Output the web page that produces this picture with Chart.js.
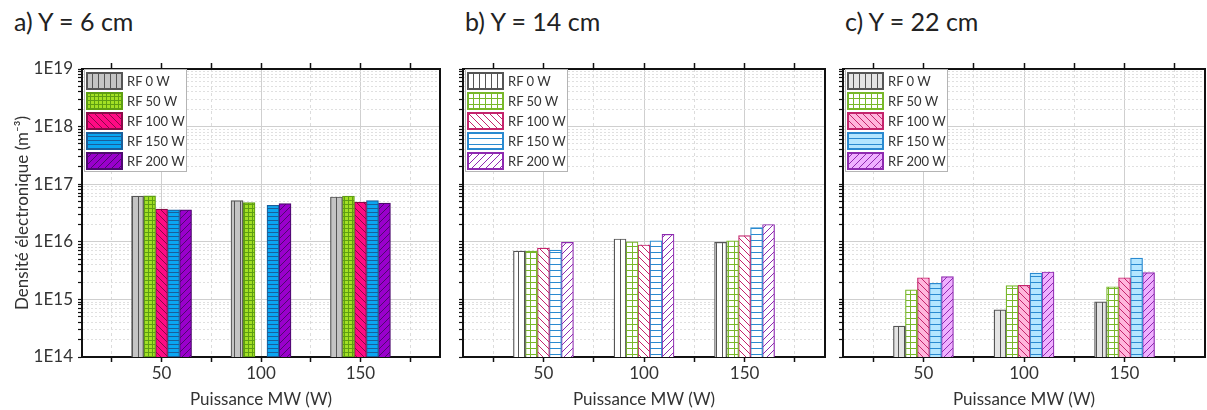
<!DOCTYPE html>
<html>
<head>
<meta charset="utf-8">
<script src="https://cdn.jsdelivr.net/npm/chart.js@4.4.1/dist/chart.umd.min.js"></script>
<style>
  body { margin: 0; background: #fff; font-family: Lato, sans-serif; }
  #wrap { position: relative; width: 1207px; height: 410px; overflow: hidden; }
  .panel { position: absolute; top: 0; height: 410px; }
  .ptitle { position: absolute; top: 6px; font-size: 25px; color: #222; white-space: nowrap; }
  .legend { position: absolute; top: 69px; width: 101px; border: 1px solid #b4b4b4; background: #fff; padding-top: 1px; }
  .legend .row { height: 20px; display: flex; align-items: center; font-size: 13px; color: #333; white-space: nowrap; }
  .legend canvas { margin: 0 4px 0 1px; }
</style>
</head>
<body>
<div id="wrap">
  <div class="ptitle" style="left:14px">a) Y = 6 cm</div>
  <div class="ptitle" style="left:465px">b) Y = 14 cm</div>
  <div class="ptitle" style="left:845px">c) Y = 22 cm</div>
  <canvas id="chartA" class="panel" style="left:0" width="452" height="410"></canvas>
  <canvas id="chartB" class="panel" style="left:452px" width="380" height="410"></canvas>
  <canvas id="chartC" class="panel" style="left:832px" width="375" height="410"></canvas>
  <div id="legA" class="legend" style="left:84px"></div>
  <div id="legB" class="legend" style="left:465px"></div>
  <div id="legC" class="legend" style="left:845px"></div>
</div>
<script>
// categories and tick values
const mwPower = [50, 100, 150];
const rfLabels = ['RF 0 W', 'RF 50 W', 'RF 100 W', 'RF 150 W', 'RF 200 W'];
const xTicks = [25, 50, 75, 100, 125, 150, 175];
const xLabelled = [50, 100, 150];
const yDecades = [1e14, 1e15, 1e16, 1e17, 1e18, 1e19];
const yMinorSteps = [2, 3, 4, 5, 6, 7, 8, 9];

// a) Y = 6 cm
const y6_rf0 = [6.2e16, 5.2e16, 6.0e16];
const y6_rf50 = [6.3e16, 4.8e16, 6.2e16];
const y6_rf100 = [3.7e16, null, 4.9e16];
const y6_rf150 = [3.6e16, 4.3e16, 5.2e16];
const y6_rf200 = [3.6e16, 4.6e16, 4.7e16];

// b) Y = 14 cm
const y14_rf0 = [6.9e15, 1.12e16, 9.8e15];
const y14_rf50 = [6.9e15, 1.0e16, 1.04e16];
const y14_rf100 = [7.8e15, 8.8e15, 1.28e16];
const y14_rf150 = [7.2e15, 1.04e16, 1.76e16];
const y14_rf200 = [9.8e15, 1.35e16, 2.0e16];

// c) Y = 22 cm
const y22_rf0 = [3.45e14, 6.6e14, 9.1e14];
const y22_rf50 = [1.46e15, 1.73e15, 1.66e15];
const y22_rf100 = [2.38e15, 1.76e15, 2.38e15];
const y22_rf150 = [1.9e15, 2.87e15, 5.24e15];
const y22_rf200 = [2.48e15, 2.99e15, 2.91e15];

Chart.defaults.font.family = 'Lato, sans-serif';
Chart.defaults.color = '#333';

const hatchKinds = ['vert', 'grid', 'down', 'horiz', 'up'];

// small tile -> CanvasPattern
function makePattern(kind, fill, line, size) {
    const c = document.createElement('canvas');
    c.width = size; c.height = size;
    const g = c.getContext('2d');
    g.fillStyle = fill;
    g.fillRect(0, 0, size, size);
    g.strokeStyle = line;
    g.lineWidth = 1;
    g.beginPath();
    if (kind === 'vert' || kind === 'grid') { g.moveTo(0.5, 0); g.lineTo(0.5, size); }
    if (kind === 'horiz' || kind === 'grid') { g.moveTo(0, 0.5); g.lineTo(size, 0.5); }
    if (kind === 'down') {
        g.moveTo(-1, -1); g.lineTo(size + 1, size + 1);
        g.moveTo(size - 1, -1); g.lineTo(size + 1, 1);
        g.moveTo(-1, size - 1); g.lineTo(1, size + 1);
    }
    if (kind === 'up') {
        g.moveTo(-1, size + 1); g.lineTo(size + 1, -1);
        g.moveTo(-1, 1); g.lineTo(1, -1);
        g.moveTo(size - 1, size + 1); g.lineTo(size + 1, size - 1);
    }
    g.stroke();
    return g.createPattern(c, 'repeat');
}

function isDecade(v) {
    const l = Math.log10(v);
    return Math.abs(l - Math.round(l)) < 1e-6;
}

function logTicks(scale) {
    const t = [];
    yDecades.forEach((d, i) => {
        t.push({ value: d, major: true });
        if (i < yDecades.length - 1) yMinorSteps.forEach(m => t.push({ value: d * m }));
    });
    scale.ticks = t;
}

function buildLegend(el, fills, lines, sizes) {
    rfLabels.forEach((lab, i) => {
        const row = document.createElement('div');
        row.className = 'row';
        const cv = document.createElement('canvas');
        cv.width = 37; cv.height = 18;
        const g = cv.getContext('2d');
        g.fillStyle = makePattern(hatchKinds[i], fills[i], lines[i], sizes[i]);
        g.fillRect(0, 0, 37, 18);
        g.strokeStyle = lines[i];
        g.lineWidth = 2;
        g.strokeRect(1, 1, 35, 16);
        row.appendChild(cv);
        const sp = document.createElement('span');
        sp.textContent = lab;
        row.appendChild(sp);
        el.appendChild(row);
    });
}

function makePanel(id, series, fills, lines, sizes, opt) {
    const datasets = series.map((vals, i) => ({
        label: rfLabels[i],
        data: mwPower.map((p, k) => ({ x: p, y: vals[k] })),
        backgroundColor: makePattern(hatchKinds[i], fills[i], lines[i], sizes[i]),
        borderColor: lines[i],
        borderWidth: 1.2,
        borderSkipped: 'bottom',
        barThickness: 12
    }));

    new Chart(document.getElementById(id), {
        type: 'bar',
        data: { datasets: datasets },
        options: {
            responsive: false,
            animation: false,
            layout: { padding: { top: 60, left: 0, right: 0, bottom: 0 } },
            plugins: { legend: { display: false }, tooltip: { enabled: false } },
            scales: {
                x: {
                    type: 'linear', position: 'bottom', min: 10, max: 190, offset: false,
                    afterBuildTicks: s => { s.ticks = xTicks.map(v => ({ value: v })); },
                    afterFit: s => { s.height = 53; },
                    ticks: {
                        autoSkip: false, maxRotation: 0, padding: 1,
                        font: { size: 17 }, color: '#333',
                        callback: v => xLabelled.includes(v) ? String(v) : ''
                    },
                    grid: {
                        offset: false,
                        color: c => c.tick && xLabelled.includes(c.tick.value) ? '#cfcfcf' : '#dcdcdc',
                        tickColor: '#111', tickLength: 5, tickWidth: 1.5
                    },
                    border: {
                        color: '#111', width: 2,
                        dash: c => c.tick && !xLabelled.includes(c.tick.value) ? [3, 3] : []
                    },
                    title: {
                        display: true, text: 'Puissance MW (W)',
                        font: { size: 17 }, color: '#333', padding: { top: 0, bottom: 0 }
                    }
                },
                x2: {
                    type: 'linear', position: 'top', min: 10, max: 190, offset: false,
                    afterBuildTicks: s => { s.ticks = xTicks.map(v => ({ value: v })); },
                    afterFit: s => { s.height = 9; },
                    ticks: { display: false },
                    grid: { offset: false, drawOnChartArea: false, tickColor: '#111', tickLength: 6, tickWidth: 1.5 },
                    border: { color: '#111', width: 2 }
                },
                y: {
                    type: 'logarithmic', position: 'left', min: 1e14, max: 1e19,
                    afterBuildTicks: logTicks,
                    afterFit: s => { s.width = opt.yWidth; },
                    ticks: {
                        display: opt.yLabels, autoSkip: false, padding: 5,
                        font: { size: 17 }, color: '#333',
                        callback: v => isDecade(v) ? '1E' + Math.round(Math.log10(v)) : ''
                    },
                    grid: {
                        color: c => c.tick && isDecade(c.tick.value) ? '#cfcfcf' : '#e0e0e0',
                        tickColor: '#111', tickLength: 4, tickWidth: 1.2
                    },
                    border: {
                        color: '#111', width: 2,
                        dash: c => c.tick && !isDecade(c.tick.value) ? [2, 2] : []
                    },
                    title: {
                        display: opt.yLabels, text: 'Densité électronique (m⁻³)',
                        font: { size: 17 }, color: '#333', padding: { top: 12, bottom: 0 }
                    }
                },
                y2: {
                    type: 'logarithmic', position: 'right', min: 1e14, max: 1e19,
                    afterFit: s => { s.width = opt.y2Width; },
                    ticks: { display: false },
                    grid: { drawOnChartArea: false, drawTicks: false },
                    border: { color: '#111', width: 2 }
                }
            }
        }
    });
    buildLegend(document.getElementById(opt.legend), fills, lines, sizes);
}

// panel a: solid colours
makePanel('chartA',
    [y6_rf0, y6_rf50, y6_rf100, y6_rf150, y6_rf200],
    ['#c4c4c4', '#a2e024', '#ff0a84', '#0aa6f2', '#9a00cc'],
    ['#555555', '#5e9e12', '#8a0a48', '#1a5e9a', '#4c0a6e'],
    [6, 4, 7, 4, 7],
    { yWidth: 82, y2Width: 12, yLabels: true, legend: 'legA' });

// panel b: white with coloured hatching
makePanel('chartB',
    [y14_rf0, y14_rf50, y14_rf100, y14_rf150, y14_rf200],
    ['#ffffff', '#ffffff', '#ffffff', '#ffffff', '#ffffff'],
    ['#555555', '#78b82a', '#c4246c', '#2a8ad0', '#8e2ab0'],
    [6, 6, 7, 6, 7],
    { yWidth: 11, y2Width: 7, yLabels: false, legend: 'legB' });

// panel c: pale colours with hatching
makePanel('chartC',
    [y22_rf0, y22_rf50, y22_rf100, y22_rf150, y22_rf200],
    ['#e4e4e4', '#ffffff', '#ffb6dc', '#b4e6ff', '#efb0ff'],
    ['#555555', '#78b82a', '#c4246c', '#2a8ad0', '#8e2ab0'],
    [6, 6, 7, 6, 7],
    { yWidth: 11, y2Width: 2, yLabels: false, legend: 'legC' });
</script>
</body>
</html>
